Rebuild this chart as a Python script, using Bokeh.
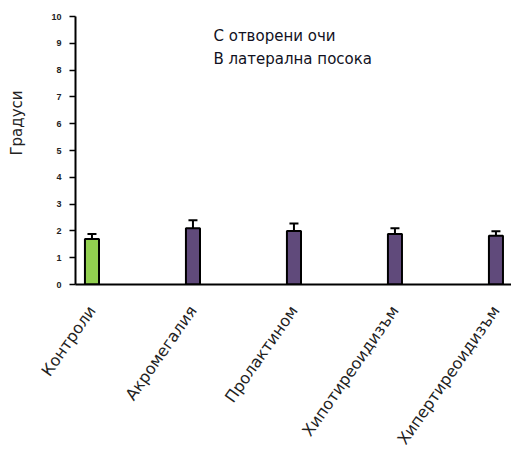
from bokeh.plotting import figure
from bokeh.models import ColumnDataSource, Whisker, Label, FixedTicker, Range1d, Title
from bokeh.embed import file_html
from bokeh.resources import INLINE
import math

categories = ["Контроли", "Акромегалия", "Пролактином", "Хипотиреоидизъм", "Хипертиреоидизъм"]
means = [1.7, 2.1, 2.0, 1.88, 1.82]
errors = [0.18, 0.3, 0.28, 0.22, 0.17]
colors = ["#92d050", "#604a7b", "#604a7b", "#604a7b", "#604a7b"]
y_ticks = [0, 1, 2, 3, 4, 5, 6, 7, 8, 9, 10]

xs = list(range(len(categories)))
src = ColumnDataSource(dict(x=xs, top=means, upper=[m + e for m, e in zip(means, errors)], color=colors))

p = figure(width=511, height=456, output_backend="svg", toolbar_location=None,
           x_range=Range1d(-0.163, 4.154), y_range=Range1d(0, 10))
p.min_border_left = 75
p.min_border_right = 0
p.min_border_top = 16
p.min_border_bottom = 172
p.outline_line_color = None
p.grid.grid_line_color = None
p.background_fill_color = "white"
p.border_fill_color = "white"

p.vbar(x="x", top="top", width=0.139, fill_color="color", line_color="black", line_width=2, source=src)
w = Whisker(base="x", lower="top", upper="upper", source=src, line_color="black", line_width=2,
            lower_head=None)
w.upper_head.size = 9
w.upper_head.line_width = 2
p.add_layout(w)

p.yaxis.ticker = FixedTicker(ticks=y_ticks)
p.yaxis.major_label_text_font_size = "9px"
p.yaxis.major_label_text_font_style = "bold"
p.yaxis.major_label_text_font = "Liberation Sans"
p.yaxis.major_label_text_color = "#222222"
p.yaxis.major_tick_out = 6
p.yaxis.major_tick_in = 0
p.yaxis.major_tick_line_width = 1.5
p.yaxis.minor_tick_line_color = None
p.yaxis.axis_line_width = 2
p.yaxis.major_label_standoff = 8

p.xaxis.ticker = FixedTicker(ticks=xs)
p.xaxis.major_label_overrides = {i: c for i, c in enumerate(categories)}
p.xaxis.major_label_orientation = math.radians(55)
p.xaxis.major_tick_line_color = None
p.xaxis.minor_tick_line_color = None
p.xaxis.major_label_text_font = "DejaVu Sans"
p.xaxis.major_label_text_font_size = "16px"
p.xaxis.major_label_text_color = "#222222"
p.xaxis.major_label_standoff = 17
p.xaxis.axis_line_width = 2

spacer = Title(text=" ", align="right", text_font_size="5px")
p.add_layout(spacer, "left")
t = Title(text="Градуси", align="right", offset=74, text_font="DejaVu Sans",
          text_font_size="15px", text_font_style="normal", text_color="#222222")
p.add_layout(t, "left")

p.add_layout(Label(x=1.203, y=9.29, text="С отворени очи", text_font="DejaVu Sans",
                   text_font_size="15px", text_baseline="middle", text_color="#111122"))
p.add_layout(Label(x=1.203, y=8.43, text="В латерална посока", text_font="DejaVu Sans",
                   text_font_size="15px", text_baseline="middle", text_color="#111122"))

open("out.html", "w").write(file_html(p, INLINE))
